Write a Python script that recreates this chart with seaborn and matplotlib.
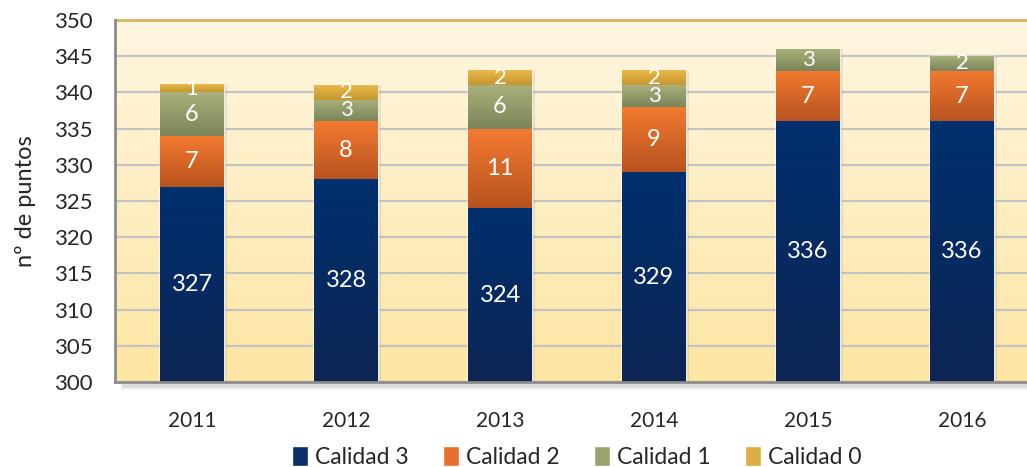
"""
Puntos de control por calidad y año - barras apiladas
"""
import numpy as np
import pandas as pd
import matplotlib
matplotlib.use("Agg")
import matplotlib.pyplot as plt
from matplotlib.colors import LinearSegmentedColormap
from matplotlib.patches import Patch
import seaborn as sns

# Datos
years = ["2011", "2012", "2013", "2014", "2015", "2016"]
calidad_3 = [327, 328, 324, 329, 336, 336]
calidad_2 = [7, 8, 11, 9, 7, 7]
calidad_1 = [6, 3, 6, 3, 3, 2]
calidad_0 = [1, 2, 2, 2, 0, 0]

series_names = ["Calidad 3", "Calidad 2", "Calidad 1", "Calidad 0"]
yticks = [300, 305, 310, 315, 320, 325, 330, 335, 340, 345, 350]

# colores (arriba, abajo) de cada degradado
grad = {
    "Calidad 3": ("#00306f", "#0d2553"),
    "Calidad 2": ("#f37a30", "#b8531f"),
    "Calidad 1": ("#a8b07a", "#7b8559"),
    "Calidad 0": ("#ebb94a", "#c5962f"),
}
legend_colors = {
    "Calidad 3": "#0b2e6a",
    "Calidad 2": "#e8702c",
    "Calidad 1": "#98a36e",
    "Calidad 0": "#dfae40",
}

sns.set_style("white")
plt.rcParams["font.family"] = ["Lato", "DejaVu Sans"]

values = np.array([calidad_3, calidad_2, calidad_1, calidad_0])
tops = values.cumsum(axis=0)

rows = []
for k, name in enumerate(series_names):
    for j, y in enumerate(years):
        rows.append({"year": y, "serie": name, "top": tops[k, j], "value": values[k, j]})
df = pd.DataFrame(rows)

fig = plt.figure(figsize=(10.27, 4.67), dpi=100)
ax = fig.add_axes([115 / 1027, 85 / 467, 924 / 1027, 362 / 467])

# barras acumuladas: la más alta primero
sns.barplot(data=df, x="year", y="top", hue="serie", hue_order=series_names[::-1],
            dodge=False, width=0.41, ax=ax, legend=False, saturation=1)

ax.set_xlim(-0.5, 5.5)
ax.set_ylim(300, 350)

# degradado del fondo
bg = LinearSegmentedColormap.from_list("bg", ["#fde5a2", "#fff6e0"])
ax.imshow(np.linspace(0, 1, 256).reshape(-1, 1), cmap=bg, aspect="auto",
          extent=(-0.5, 5.5, 300, 350), origin="lower", zorder=0)

# degradado en cada tramo visible
containers = {name: c for name, c in zip(series_names[::-1], ax.containers)}
for k, name in enumerate(series_names):
    cmap = LinearSegmentedColormap.from_list(name, [grad[name][1], grad[name][0]])
    for j, patch in enumerate(containers[name].patches):
        x0 = patch.get_x()
        x1 = x0 + patch.get_width()
        upper = patch.get_height()
        lower = 300 if k == 0 else containers[series_names[k - 1]].patches[j].get_height()
        if upper <= lower:
            continue
        # sombra
        ax.add_patch(plt.Rectangle((x1, lower), 0.025, upper - lower, color="#000000",
                                   alpha=0.08, lw=0, zorder=2.4))
        ax.imshow(np.linspace(0, 1, 64).reshape(-1, 1), cmap=cmap, aspect="auto",
                  extent=(x0, x1, lower, upper), origin="lower", zorder=2.5)
        ax.text((x0 + x1) / 2, (lower + upper) / 2, f"{values[k, j]}",
                ha="center", va="center", color="white",
                fontsize=17 if upper - lower > 3 else 16, zorder=5)

ax.set_yticks(yticks)
ax.grid(axis="y", color="#c3c3c3", lw=1.6, zorder=1)
ax.set_axisbelow(True)

ax.spines["right"].set_visible(False)
ax.spines["top"].set_color("#d8b367")
ax.spines["top"].set_linewidth(2)
for s in ["left", "bottom"]:
    ax.spines[s].set_color("#8c8c8c")
    ax.spines[s].set_linewidth(2)
    ax.spines[s].set_zorder(6)

# sombra bajo el eje
for i, a in enumerate([0.10, 0.07, 0.04, 0.02]):
    ax.plot([-0.5 + 0.04, 5.5], [300 - 0.25 * (i + 1)] * 2, color="black", alpha=a,
            lw=2.5, clip_on=False, zorder=0.5, solid_capstyle="butt")

ax.tick_params(axis="y", length=0, pad=16, labelsize=16)
ax.tick_params(axis="x", length=0, pad=21, labelsize=15)
ax.set_xlabel("")
ax.set_ylabel("nº de puntos", fontsize=17, labelpad=13)

handles = [Patch(facecolor=legend_colors[n], label=n) for n in series_names]
ax.legend(handles=handles, loc="center", bbox_to_anchor=(0.5, -0.207), ncol=4,
          frameon=False, fontsize=16.5, handlelength=0.7, handleheight=0.95,
          handletextpad=0.3, columnspacing=1.5)

plt.savefig("out.png", dpi=100)
plt.close()
